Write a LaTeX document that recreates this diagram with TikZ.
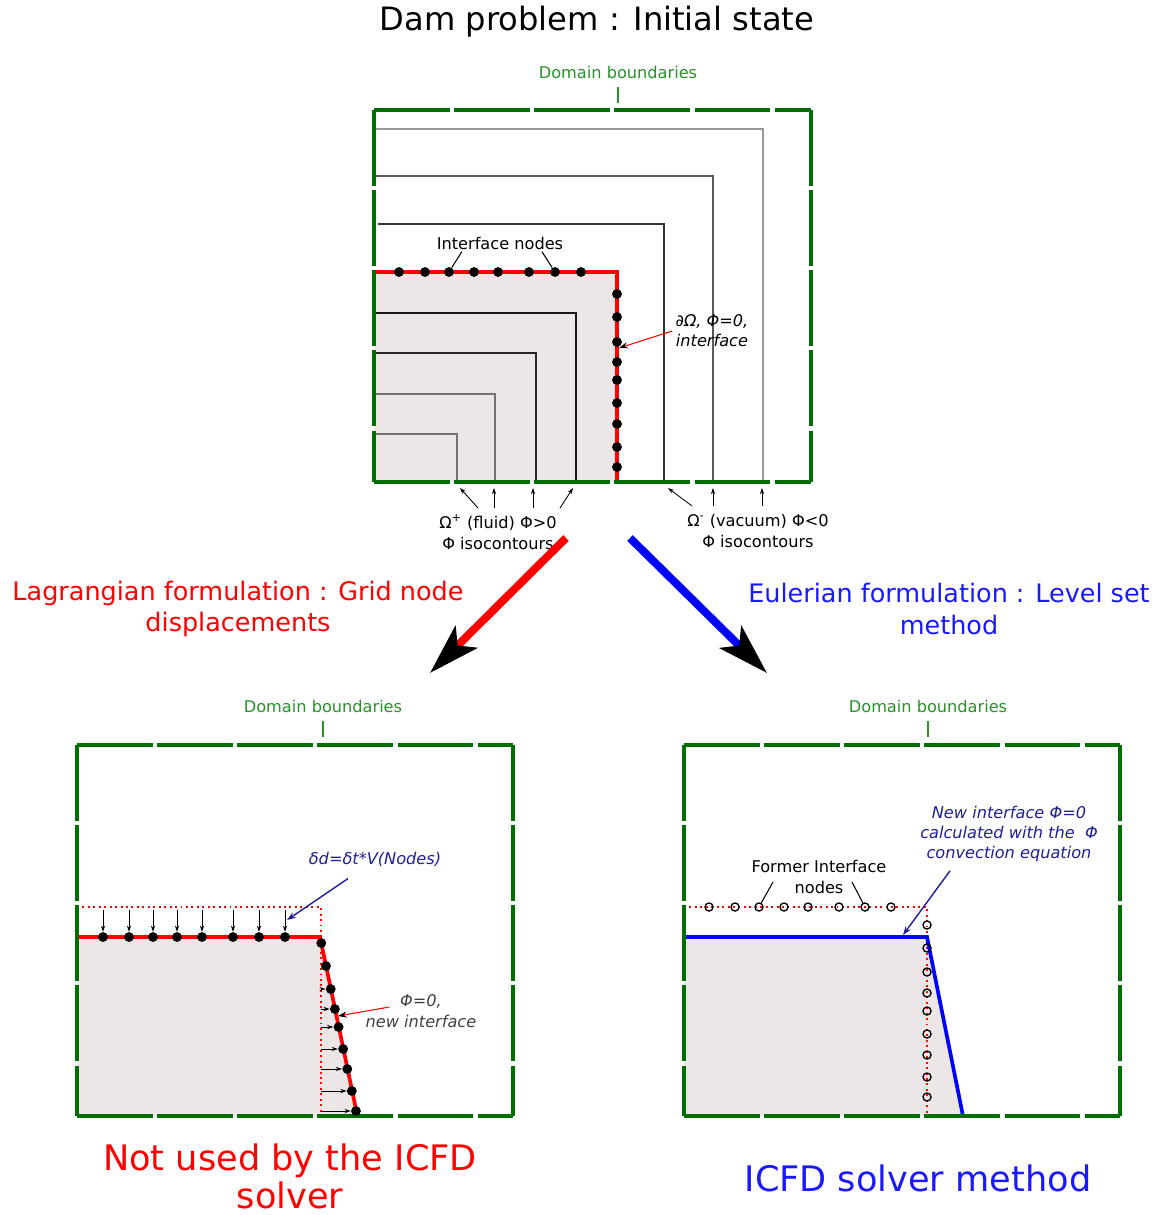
\documentclass[tikz,border=0pt]{standalone}
\usepackage{fontspec}
\setmainfont{DejaVu Sans}
\usetikzlibrary{arrows.meta,calc}
\definecolor{fluid}{RGB}{237,230,230}
\definecolor{bgreen}{RGB}{0,110,0}
\definecolor{tgreen}{RGB}{40,145,40}
\definecolor{navy}{RGB}{30,30,150}
\definecolor{eblue}{RGB}{25,25,255}
\begin{document}
\begin{tikzpicture}[x=0.2mm,y=-0.2mm]
	\tikzset{dot/.style={circle,fill,inner sep=0pt,minimum size=5.6pt},
		odot/.style={circle,draw,line width=0.75pt,inner sep=0pt,minimum size=4.6pt},
		bound/.style={bgreen,line width=1.75pt,dash pattern=on 43pt off 2.6pt},
		small/.style={font=\fontsize{9.2}{12}\selectfont,inner sep=0pt,align=center},
		ital/.style={small,font=\fontsize{9.2}{11.5}\selectfont\itshape},
		dom/.style={small,text=tgreen},
		big/.style={font=\fontsize{14.5}{18}\selectfont,align=center},
		huge/.style={font=\fontsize{20}{21.5}\selectfont,align=center},
		sarr/.style={-{Stealth[length=3.5pt,width=2.4pt]},line width=0.5pt},
		bigarr/.style={line width=4.5pt,-{Stealth[black,length=29pt,width=17.5pt,inset=6.8pt]}}}
	\useasboundingbox (0,0) rectangle (1157,1215);
	\node[font=\fontsize{18.3}{22}\selectfont] (title) at (597,22) {Dam problem : Initial state};

	% initial state
	\fill[fluid] (374,272) rectangle (617,482);
	\draw[gray!80,line width=0.6pt] (374,129) -| (763,480);
	\draw[black!65,line width=0.7pt] (374,176) -| (713,482);
	\draw[black!80,line width=1.1pt] (378,224) -| (664,482);
	\draw[black!90,line width=1.2pt] (374,313) -| (576,482);
	\draw[black!85,line width=0.9pt] (374,353) -| (536,482);
	\draw[black!55,line width=0.6pt] (374,394) -| (495,482);
	\draw[black!55,line width=0.6pt] (374,434) -| (457,482);
	\draw[red,line width=2.1pt] (374,272) -| (617,482);
	\draw[bound] (374,110) -- (811,110);
	\draw[bound] (374,110) -- (374,482);
	\draw[bound] (811,110) -- (811,482);
	\draw[bound] (374,482) -- (811,482);
	\node[dom] (db1) at (618,72) {Domain boundaries};
	\draw[tgreen,line width=0.7pt] ($(db1.south)+(0,8)$) -- ++(0,16);
	\foreach \x [count=\i] in {399,425,449,474,498,529,555,581}
		\node[dot] (t\i) at (\x,272) {};
	\foreach \y [count=\i] in {294,317,342,362,380,403,424,447,467}
		\node[dot] (r\i) at (617,\y) {};
	\node[small] (inl) at (500,243) {Interface nodes};
	\draw[line width=0.6pt] ($(inl.south west)!0.2!(inl.south east)+(0,2)$) -- (t3);
	\draw[line width=0.6pt] ($(inl.south west)!0.83!(inl.south east)+(0,2)$) -- (t7);
	\node[ital] (ilab) at (712,331) {∂Ω, Φ=0,\\interface};
	\coordinate (ip) at (619,348);
	\draw[red,line width=0.6pt,-{Stealth[black,length=5pt,width=3.5pt]}] ($(ilab.west)+(-3,0)$) -- (ip);

	\node[small,anchor=north] (flab) at (498,514) {Ω\textsuperscript{+} (fluid) Φ>0\\Φ isocontours};
	\node[small,anchor=north] (vlab) at (758,514) {Ω\textsuperscript{-} (vacuum) Φ<0\\Φ isocontours};
	\foreach \n/\x in {f1/460,f2/494,f3/533,f4/573,v1/668,v2/713,v3/762}
		\coordinate (\n) at (\x,488);
	\foreach \n/\dx in {f1/-20,f2/-4,f3/35,f4/62}
		\draw[sarr] ($(flab.north)+(\dx,-6)$) -- (\n);
	\foreach \n/\dx in {v1/-66,v2/-45,v3/4}
		\draw[sarr] ($(vlab.north)+(\dx,-8)$) -- (\n);

	% the two ways
	\coordinate (ls) at (566,538);
	\coordinate (le) at (430,673);
	\coordinate (es) at (630,538);
	\coordinate (ee) at (767,673);
	\draw[bigarr,red] (ls) -- (le);
	\draw[bigarr,blue] (es) -- (ee);
	\node[big,text=red] (lagr) at (238,609) {Lagrangian formulation : Grid node\\displacements};
	\node[big,text=eblue] (eul) at (949,609) {Eulerian formulation : Level set\\method};

	% lagrangian
	\fill[fluid] (77,937) -- (320,937) -- (357,1116) -- (77,1116) -- cycle;
	\draw[red,dotted,line width=1.1pt] (77,907) -| (321,1116);
	\coordinate (lc) at (321,907);
	\draw[red,line width=2.1pt] (77,937) -- (320,937) -- (357,1114);
	\draw[bound] (77,745) -- (513,745);
	\draw[bound] (77,745) -- (77,1116);
	\draw[bound] (513,745) -- (513,1116);
	\draw[bound] (77,1116) -- (513,1116);
	\node[dom] (db2) at (323,706) {Domain boundaries};
	\draw[tgreen,line width=0.7pt] ($(db2.south)+(0,8)$) -- ++(0,16);
	\foreach \x [count=\i] in {103,129,153,177,202,233,259,285}{
		\node[dot] (lt\i) at (\x,937) {};
		\draw[sarr] ($(lt\i.north)+(0,-22)$) -- (lt\i.north);
	}
	\foreach \y [count=\i] in {943,966,989,1009,1027,1049,1069,1091,1111}
		\node[dot] (ld\i) at ({320+37*(\y-937)/179},\y) {};
	\foreach \i in {3,...,9}
		\draw[sarr] (ld\i.west -| lc) -- (ld\i.west);
	\node[ital,text=navy] (dd) at (375,859) {δd=δt*V(Nodes)};
	\coordinate (dde) at (287,920);
	\draw[navy,line width=0.8pt,-{Stealth[length=5pt,width=3.5pt]}] ($(dd.south)+(-27,12)$) -- (dde);
	\node[ital,text=black!75] (nl) at (421,1011) {Φ=0,\\new interface};
	\coordinate (ni) at (338,1016);
	\draw[red,line width=0.6pt,-{Stealth[black,length=5pt,width=3.5pt]}] ($(nl.west)+(24,-4)$) -- (ni);
	\node[huge,text=red] (notused) at (290,1176) {Not used by the ICFD\\solver};

	% eulerian
	\fill[fluid] (684,937) -- (927,937) -- (963,1116) -- (684,1116) -- cycle;
	\draw[red,dotted,line width=1.1pt] (684,907) -| (927,1116);
	\draw[blue,line width=2.1pt] (684,937) -- (927,937) -- (963,1116);
	\draw[bound] (684,745) -- (1120,745);
	\draw[bound] (684,745) -- (684,1116);
	\draw[bound] (1120,745) -- (1120,1116);
	\draw[bound] (684,1116) -- (1120,1116);
	\node[dom] (db3) at (928,706) {Domain boundaries};
	\draw[tgreen,line width=0.7pt] ($(db3.south)+(0,8)$) -- ++(0,16);
	\foreach \x [count=\i] in {709,735,759,784,808,839,865,891}
		\node[odot] (et\i) at (\x,907) {};
	\foreach \y [count=\i] in {925,948,972,993,1011,1034,1055,1077,1097}
		\node[odot] (er\i) at (927,\y) {};
	\node[small] (fl) at (819,877) {Former Interface\\nodes};
	\draw[line width=0.6pt] ($(fl.center)+(-46,5)$) -- (et3);
	\draw[line width=0.6pt] ($(fl.center)+(33,5)$) -- (et7);
	\node[ital,text=navy,font=\fontsize{9.2}{11.2}\selectfont\itshape] (nil) at (1009,834) {New interface Φ=0\\calculated with the~ Φ\\convection equation};
	\coordinate (nie) at (903,935);
	\draw[navy,line width=0.8pt,-{Stealth[length=5pt,width=3.5pt]}] ($(nil.south)+(-59,9)$) -- (nie);
	\node[huge,text=eblue] (icfd) at (918,1178) {ICFD solver method};
\end{tikzpicture}
\end{document}
